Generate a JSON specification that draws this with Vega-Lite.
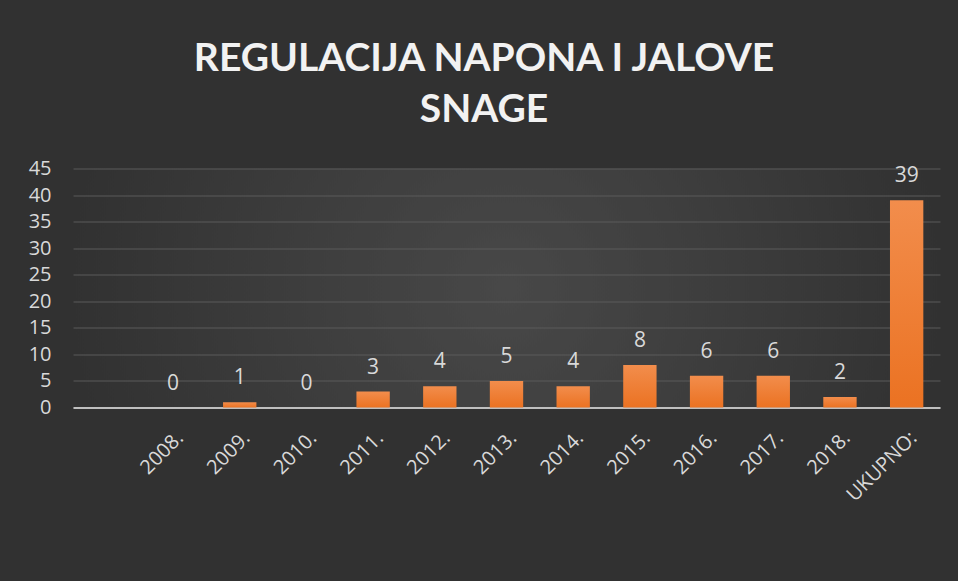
{
  "$schema": "https://vega.github.io/schema/vega-lite/v6.json",
  "width": 867,
  "height": 239,
  "autosize": {"type": "none"},
  "padding": {"left": 73, "top": 168.5, "right": 18, "bottom": 173.5},
  "background": "#313131",
  "title": {
    "text": ["REGULACIJA NAPONA I JALOVE", "SNAGE"],
    "font": "Lato",
    "fontSize": 39,
    "fontWeight": "bold",
    "letterSpacing": 1.2,
    "color": "#f2f2f2",
    "lineHeight": 51,
    "anchor": "middle",
    "frame": "bounds",
    "offset": 29
  },
  "data": {
    "values": [
      {"godina": "2008.", "broj": 0},
      {"godina": "2009.", "broj": 1},
      {"godina": "2010.", "broj": 0},
      {"godina": "2011.", "broj": 3},
      {"godina": "2012.", "broj": 4},
      {"godina": "2013.", "broj": 5},
      {"godina": "2014.", "broj": 4},
      {"godina": "2015.", "broj": 8},
      {"godina": "2016.", "broj": 6},
      {"godina": "2017.", "broj": 6},
      {"godina": "2018.", "broj": 2},
      {"godina": "UKUPNO:", "broj": 39}
    ]
  },
  "encoding": {
    "x": {
      "field": "godina",
      "type": "nominal",
      "sort": null,
      "scale": {
        "domain": [" ", "2008.", "2009.", "2010.", "2011.", "2012.", "2013.", "2014.", "2015.", "2016.", "2017.", "2018.", "UKUPNO:"],
        "paddingInner": 0.5,
        "paddingOuter": 0.25
      },
      "axis": {
        "title": null,
        "labelAngle": -45,
        "labelFont": "Open Sans",
        "labelFontSize": 20,
        "labelColor": "#d9d9d9",
        "ticks": false,
        "labelPadding": 20,
        "domainColor": "#bfbfbf",
        "domainWidth": 2
      }
    },
    "y": {
      "field": "broj",
      "type": "quantitative",
      "scale": {"domain": [0, 45], "nice": false},
      "axis": {
        "title": null,
        "values": [0, 5, 10, 15, 20, 25, 30, 35, 40, 45],
        "domain": false,
        "ticks": false,
        "labelPadding": 22,
        "labelFont": "Open Sans",
        "labelFontSize": 20,
        "labelColor": "#d9d9d9",
        "gridColor": "#5a5a5a",
        "gridWidth": 1
      }
    }
  },
  "layer": [
    {
      "mark": {
        "type": "bar",
        "color": {
          "gradient": "linear",
          "x1": 0, "y1": 0, "x2": 0, "y2": 1,
          "stops": [
            {"offset": 0, "color": "#f28d4c"},
            {"offset": 1, "color": "#eb7222"}
          ]
        }
      }
    },
    {
      "mark": {
        "type": "text",
        "dy": -18,
        "baseline": "alphabetic",
        "font": "Open Sans",
        "fontSize": 21,
        "color": "#d9d9d9"
      },
      "encoding": {"text": {"field": "broj", "type": "quantitative"}}
    }
  ],
  "config": {
    "view": {
      "stroke": null,
      "fill": {
        "gradient": "radial",
        "stops": [
          {"offset": 0, "color": "#484848"},
          {"offset": 1, "color": "#313131"}
        ]
      }
    }
  }
}
